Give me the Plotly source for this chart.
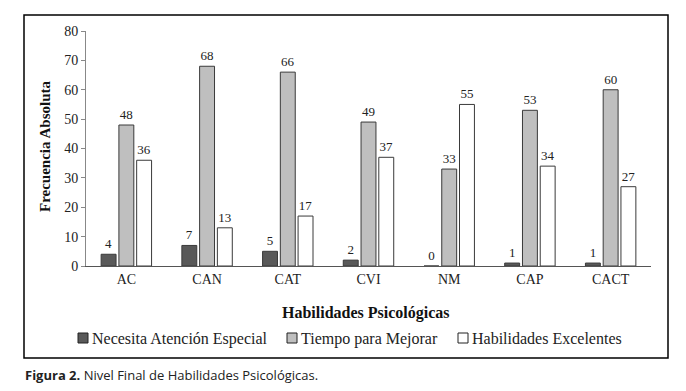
import plotly.graph_objects as go

categories = ["AC", "CAN", "CAT", "CVI", "NM", "CAP", "CACT"]
necesita = [4, 7, 5, 2, 0, 1, 1]
tiempo = [48, 68, 66, 49, 33, 53, 60]
excelentes = [36, 13, 17, 37, 55, 34, 27]
y_ticks = [0, 10, 20, 30, 40, 50, 60, 70, 80]
series_names = ["Necesita Atención Especial", "Tiempo para Mejorar", "Habilidades Excelentes"]
series_colors = ["#595959", "#bfbfbf", "#ffffff"]

SERIF = "Liberation Serif, Times New Roman, serif"
OFF = 8  # default page body margin
W, H = 686 - OFF, 391 - OFF
# plot area in window pixels: x 86..651, y 31..266
L, R, T, B = 86 - OFF, 686 - 651, 31 - OFF, 391 - 266
pw, ph = W - L - R, H - T - B

def px(x):
    return (x - OFF - L) / pw

def py(y):
    return (H - B - (y - OFF)) / ph

fig = go.Figure()
for name, vals, col in zip(series_names, [necesita, tiempo, excelentes], series_colors):
    fig.add_trace(go.Bar(
        x=categories, y=vals, name=name,
        marker=dict(color=col, line=dict(color="#3a3a3a", width=1)),
        text=[str(v) for v in vals], textposition="outside",
        outsidetextfont=dict(family=SERIF, size=13, color="#222222"),
        cliponaxis=False, showlegend=False,
    ))

legend_sq_x = [78, 287, 458]
shapes = [dict(type="rect", xref="paper", yref="paper",
               x0=px(24), x1=px(668), y0=py(358), y1=py(15),
               line=dict(color="black", width=1.5), fillcolor="rgba(0,0,0,0)")]
annotations = []
for sx, name, col in zip(legend_sq_x, series_names, series_colors):
    shapes.append(dict(type="rect", xref="paper", yref="paper",
                       x0=px(sx), x1=px(sx + 10), y0=py(343), y1=py(333),
                       line=dict(color="#222222", width=1), fillcolor=col))
    annotations.append(dict(text=name, xref="paper", yref="paper",
                            x=px(sx + 12), y=py(338.5), showarrow=False,
                            xanchor="left", yanchor="middle",
                            font=dict(family=SERIF, size=16, color="#222222")))

annotations += [
    dict(text="<b>Frecuencia Absoluta</b>", xref="paper", yref="paper",
         x=px(45), y=py(147), textangle=-90, showarrow=False,
         font=dict(family=SERIF, size=15, color="#111111"),
         xanchor="center", yanchor="middle"),
    dict(text="<b>Habilidades Psicológicas</b>", xref="paper", yref="paper",
         x=px(366), y=py(313), showarrow=False,
         font=dict(family=SERIF, size=16, color="#111111"),
         xanchor="center", yanchor="middle"),
    dict(text="<b>Figura 2.</b> Nivel Final de Habilidades Psicológicas.", xref="paper", yref="paper",
         x=px(23), y=py(375), showarrow=False,
         font=dict(family="Open Sans, sans-serif", size=13, color="#222222"),
         xanchor="left", yanchor="middle"),
]

fig.update_layout(
    width=W, height=H,
    margin=dict(l=L, r=R, t=T, b=B, autoexpand=False),
    paper_bgcolor="white", plot_bgcolor="white",
    barmode="group", bargap=0.34, bargroupgap=0.16,
    font=dict(family=SERIF, size=13, color="#222222"),
    showlegend=False,
    xaxis=dict(showline=True, linecolor="#555555", linewidth=1, ticks="",
               tickfont=dict(family=SERIF, size=14), showgrid=False, zeroline=False),
    yaxis=dict(range=[0, 80], tickvals=y_ticks, showline=True, linecolor="#888888", linewidth=1,
               ticks="outside", ticklen=4, tickcolor="#888888",
               tickfont=dict(family=SERIF, size=14), showgrid=False, zeroline=False),
    shapes=shapes,
    annotations=annotations,
)

fig.write_html("out.html")
